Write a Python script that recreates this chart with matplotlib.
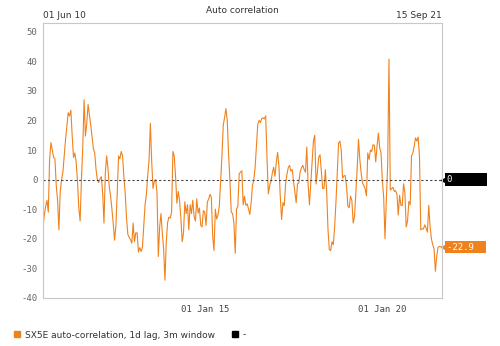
import numpy as np
import pandas as pd
import matplotlib
matplotlib.use('Agg')
import matplotlib.pyplot as plt
import matplotlib.transforms as mtransforms
from matplotlib.lines import Line2D

# SX5E auto-correlation (approx. every 2 weeks)
seg1 = [-16, -12, -9, -7, -11, 7, 12.5, 10, 7.5, 7, -2, -7, -17, -4, 0, 2.5, 8, 13.5, 18, 22.6,
        21.5, 23.5, 15, 7.5, 9, 6, -0.5, -9.5, -14, 0, 11, 27, 14.7, 19, 25.4, 22, 18.5, 14.5, 10.5, 9,
        3.5, 0, -1, 0.2, 1, -4.5, -14.7, 2]
seg2 = [8, 4, -2.5, -5.6, -10, -15, -20.5, -15.5, -4.5, 8, 7, 9.5, 8, 1, -4.5, -13, -18.5, -19.5, -20.3, -21.5,
        -14.7, -21, -18, -18, -24.5, -23, -24.3, -23, -16, -8.5, -5, 1.5, 6.5, 19, 6, -3, -0.5, 0, -4.5, -26,
        -16, -11.5, -18, -23.5, -34, -21, -14.5, -12.7, -13, -11]
seg3 = [9.5, 8, 1, -8, -4, -7, -13, -21, -18, -7.5, -11.5, -8.5, -17, -8.5, -11.5, -7, -12.5, -14, -6.5, -11.3,
        -9.6, -15.5, -16, -10.5, -11, -15.5, -7.6, -6.5, -5, -6, -19, -24, -10, -13.3, -12, -9, -0.6, 8, 18.5, 21,
        24, 20, 8.5, 0, -11, -11.5, -14.5, -24.9, -10, -9]
seg4 = [2, 2.5, 3, -8.5, -5.6, -8.7, -8.2, -9.8, -11.8, -8, -2, -0.2, 4, 11, 18.5, 20, 19.3, 20.6, 20.9, 20.5,
        21.5, 7, -4.8, -2, -0.6, 2.2, 4.2, 1.1, 5.9, 9.2, 4.5, -5.7, -13.5, -7.8, -8.8, -1.5, 1.7, 4, 4.8, 2.9,
        3.4, -0.6, -4.2, -7.8, -1.4, -1.1, 2.6, 4, 4.8, 3.4]
seg5 = [2.5, 11, -1.5, -8.5, -1.5, 6, 13, 15, -1.5, 2.5, 7.6, 8.4, 2.5, -3, -3, 3.4, -4, -17, -23.7, -24,
        -21, -22, -16, -7.6, 2.8, 12.4, 13, 10, 0.5, 1.2, 1.4, -2.3, -9, -9.5, -5.6, -7, -14.7, -12.5, -4.4, 3.6,
        13.6, 6.8, 2.3, -1.1, -2, -3.1, -5.5, 9, 6.8, 10]
seg6 = [9.5, 11.8, 11.6, 6, 11.3, 15.7, 10.8, 9, -0.3, -6, -20, -6.8, 4.8, 40.7, -3.5, -3.1, -2.6, -4, -3.7, -5,
        -12, -5.3, -8.7, -8.8, -1.4, -4.5, -16, -14, -7.4, -8.5, 7.9, 9, 11.3, 14.1, 13, 14.4, 8, -17, -16.6, -16.7,
        -15.3, -16.4, -17.8, -8.7, -15.8, -20, -22, -23.4, -31, -26, -22.9, -22.6, -22.7, -22.9]
values = seg1 + seg2 + seg3 + seg4 + seg5 + seg6
start_date = '2010-06-01'
end_date = '2021-09-15'
dates = pd.date_range(start_date, end_date, periods=len(values))
xtick_dates = ['2015-01-01', '2020-01-01']
xtick_labels = ['01 Jan 15', '01 Jan 20']
yticks = [50, 40, 30, 20, 10, 0, -10, -20, -30, -40]

orange = '#F0821E'
grey = '#666666'
mono = 'DejaVu Sans Mono'

fig = plt.figure(figsize=(5, 3.46), dpi=100)
ax = fig.add_axes([0.086, 0.139, 0.798, 0.795])

ax.plot(dates, values, color=orange, lw=0.8)
ax.axhline(0, color='#444444', lw=0.8, ls=(0, (2, 2)))

ax.set_xlim(pd.Timestamp(start_date), pd.Timestamp(end_date))
ax.set_ylim(-40, 53)
ax.set_yticks(yticks)
ax.set_yticklabels([str(v) for v in yticks], family=mono, fontsize=6.5, color=grey)
ax.set_xticks(pd.to_datetime(xtick_dates))
ax.set_xticklabels(xtick_labels, family=mono, fontsize=6.5, color='#444444')
ax.tick_params(length=0, pad=4)
ax.tick_params(axis='x', pad=5)
for s in ax.spines.values():
    s.set_color('#c8c8c8')
    s.set_linewidth(0.8)

ax.text(0.0, 1.012, '01 Jun 10', transform=ax.transAxes, ha='left', va='bottom',
        fontsize=6.5, color='#333333')
ax.text(1.0, 1.012, '15 Sep 21', transform=ax.transAxes, ha='right', va='bottom',
        fontsize=6.5, color='#333333')
ax.text(0.5, 1.03, 'Auto correlation', transform=ax.transAxes, ha='center', va='bottom',
        fontsize=6.5, color='#333333')

# value tags on the right edge
trans = mtransforms.blended_transform_factory(ax.transAxes, ax.transData)
ax.text(1.012, 0, '0      ', transform=trans, ha='left', va='center', family=mono,
        fontsize=6.5, color='white', clip_on=False,
        bbox=dict(boxstyle='square,pad=0.25', fc='black', ec='none'))
ax.plot([1.004], [0], marker='<', ms=4, color='black', transform=trans, clip_on=False)
ax.text(1.012, values[-1], '%.1f  ' % values[-1], transform=trans, ha='left', va='center',
        family=mono, fontsize=6.5, color='white', clip_on=False,
        bbox=dict(boxstyle='square,pad=0.15', fc=orange, ec='none'))
ax.plot([1.004], [values[-1]], marker='<', ms=4, color=orange, transform=trans, clip_on=False)

handles = [Line2D([], [], ls='none', marker='s', ms=5, color=orange),
           Line2D([], [], ls='none', marker='s', ms=5, color='black')]
fig.legend(handles, ['SX5E auto-correlation, 1d lag, 3m window', '-'],
           loc='lower left', bbox_to_anchor=(0.01, -0.005), ncol=2, frameon=False,
           fontsize=6.5, handlelength=0.8, handletextpad=0.5, columnspacing=1.8,
           labelcolor='#333333')

fig.savefig('out.png', dpi=100)
